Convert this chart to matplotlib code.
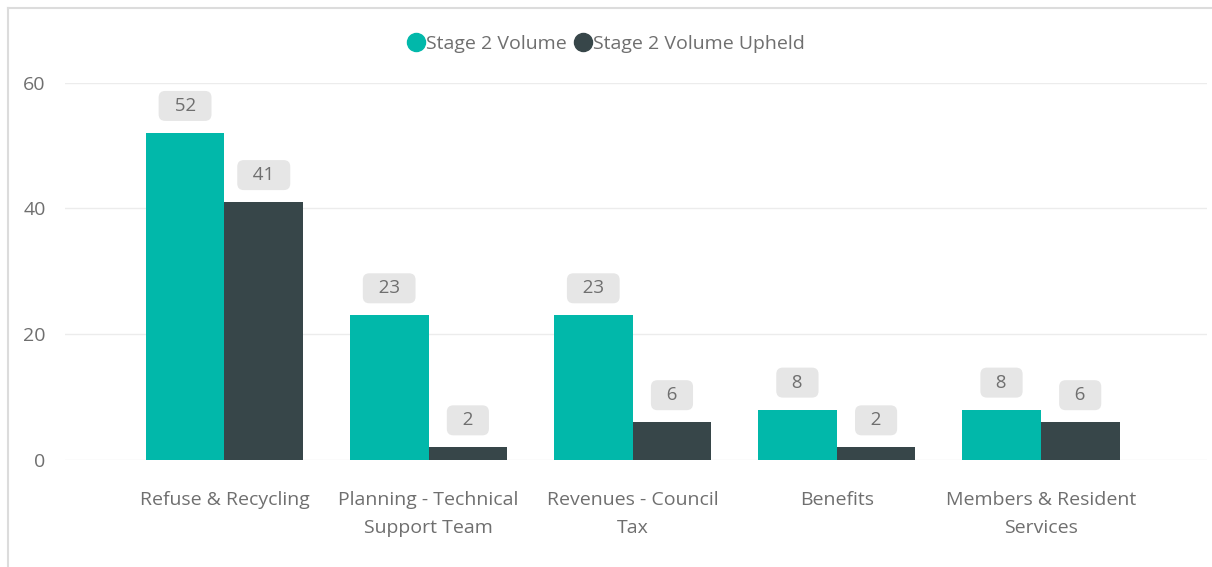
import matplotlib.pyplot as plt
import numpy as np
from matplotlib.lines import Line2D

plt.rcParams['font.family'] = ['Open Sans', 'DejaVu Sans']

categories = ["Refuse & Recycling", "Planning - Technical\nSupport Team",
              "Revenues - Council\nTax", "Benefits", "Members & Resident\nServices"]
stage2_volume = [52, 23, 23, 8, 8]
stage2_upheld = [41, 2, 6, 2, 6]
series_names = ["Stage 2 Volume", "Stage 2 Volume Upheld"]
yticks = [0, 20, 40, 60]

teal = "#01B8AA"
dark = "#374649"
txt = "#6f6f6f"

fig = plt.figure(figsize=(12.12, 5.67), dpi=100)
ax = fig.add_axes([65/1212, 1-460/567, (1207-65)/1212, (460-82.7)/567])

x = np.arange(len(categories))
w = 0.3855
b1 = ax.bar(x - w/2, stage2_volume, w, color=teal, zorder=3)
b2 = ax.bar(x + w/2, stage2_upheld, w, color=dark, zorder=3)

# data labels in grey rounded boxes
for bars, vals in [(b1, stage2_volume), (b2, stage2_upheld)]:
    for r, v in zip(bars, vals):
        ax.annotate(f"  {v}  ", (r.get_x() + r.get_width()/2, v),
                    xytext=(0, 19.5), textcoords="offset points",
                    ha="center", va="center", fontsize=13.5, color=txt,
                    bbox=dict(boxstyle="round,pad=0.32,rounding_size=0.35",
                              fc="#e6e6e6", ec="none"),
                    annotation_clip=False, zorder=4)

ax.set_xlim(-0.781, 4.814)
ax.set_ylim(0, 60)
ax.set_yticks(yticks)
ax.set_xticks(x)
ax.set_xticklabels(categories, fontsize=14, color=txt, linespacing=1.72)
ax.tick_params(axis="x", length=0, pad=22)
ax.tick_params(axis="y", length=0, pad=14, labelsize=14, labelcolor=txt)
ax.grid(axis="y", color="#ececec", linewidth=1, zorder=0)
for s in ax.spines.values():
    s.set_visible(False)

handles = [Line2D([], [], marker="o", linestyle="none", markersize=13,
                  markerfacecolor=c, markeredgecolor=c) for c in (teal, dark)]
fig.legend(handles, series_names, loc="center", bbox_to_anchor=(0.5008, 1-44/567),
           ncol=2, frameon=False, fontsize=14, labelcolor=txt,
           handlelength=0.7, handletextpad=0.15, columnspacing=0.5)

# frame lines of the visual
fig.add_artist(Line2D([8/1212, 8/1212], [0, 1-8/567], color="#dcdcdc", linewidth=1.5))
fig.add_artist(Line2D([8/1212, 1], [1-8/567, 1-8/567], color="#dcdcdc", linewidth=1.5))

fig.savefig("out.png", dpi=100)
